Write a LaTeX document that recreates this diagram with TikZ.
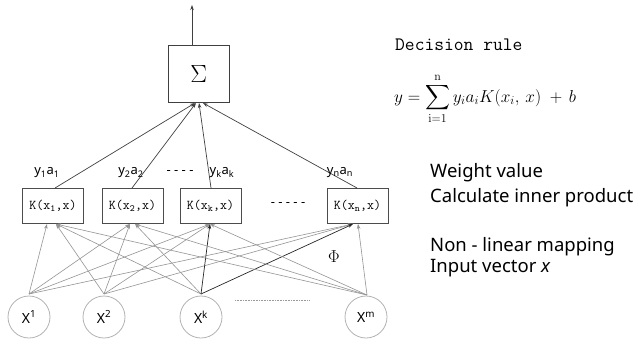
\documentclass[tikz,border=0pt]{standalone}
\usepackage{amsmath}
\usepackage[no-math]{fontspec}
\setmainfont{Noto Sans}
\usetikzlibrary{arrows.meta,calc}
\begin{document}
\begin{tikzpicture}[x=1pt,y=-1pt,
  kbox/.style={draw=black!70, line width=0.8pt, minimum width=61pt, minimum height=35pt, inner sep=0pt, font=\ttfamily\fontsize{13.5}{14}\selectfont},
  sbox/.style={draw=black!75, line width=0.8pt, minimum width=61pt, minimum height=57pt, inner sep=0pt},
  inp/.style={circle, draw=black!30, line width=0.8pt, minimum size=42pt, inner sep=0pt, font=\fontsize{14}{14}\selectfont},
  tip/.style={-{Stealth[length=5pt,width=3.5pt]}},
  gline/.style={draw=black!42, line width=0.6pt, tip},
  bline/.style={draw=black!85, line width=0.7pt, tip},
  sline/.style={draw=black!75, line width=0.7pt, tip},
  lab/.style={font=\fontsize{13}{13}\selectfont, inner sep=0pt},
  rtext/.style={font=\fontsize{18.5}{19}\selectfont, anchor=west, inner sep=0pt},
]
\useasboundingbox (0,0) rectangle (644,340);

% boxes
\node[sbox] (sig) at (198.8,73.5) {\fontsize{24}{24}\selectfont$\Sigma$};
\node[kbox] (k1) at (53,205.5) {K(x\textsubscript{1},x)};
\node[kbox] (k2) at (132.5,205.5) {K(x\textsubscript{2},x)};
\node[kbox] (k3) at (210.5,205.5) {K(x\textsubscript{k},x)};
\node[kbox] (kn) at (357.5,205.5) {K(x\textsubscript{n},x)};

% inputs
\node[inp] (x1) at (29,317) {X\textsuperscript{1}};
\node[inp] (x2) at (104,317) {X\textsuperscript{2}};
\node[inp] (xk) at (201,317) {X\textsuperscript{k}};
\node[inp] (xm) at (366,317) {X\textsuperscript{m}};

% ports
\coordinate (out) at (192,5);
\coordinate (sigout) at (192,45);
\coordinate (s1) at (195,103);
\coordinate (s2) at (196,103);
\coordinate (s3) at (199,103);
\coordinate (s4) at (203,103);
\coordinate (t1) at (55,188);
\coordinate (t2) at (132,188);
\coordinate (t3) at (211,188);
\coordinate (t4) at (357,188);
\coordinate (b1a) at (47,224);
\coordinate (b1b) at (56,224);
\coordinate (b2a) at (130,224);
\coordinate (b2b) at (135,224);
\coordinate (b3) at (210,224);
\coordinate (b4a) at (353,224);
\coordinate (b4b) at (358,224);
\coordinate (p1) at (29,294);
\coordinate (p2) at (104,294);
\coordinate (pk) at (201,294);
\coordinate (pm) at (367,295);
\coordinate (d1) at (235,300);
\coordinate (d2) at (310,300);

% output
\draw[sline] (sigout) -- (out);
% to sigma
\draw[sline] (t1) -- (s1);
\draw[sline] (t2) -- (s2);
\draw[sline] (t3) -- (s3);
\draw[sline] (t4) -- (s4);

% input connections
\draw[gline] (p1) -- (b1a);
\draw[gline] (p1) -- (b2a);
\draw[gline] (p1) -- (b3);
\draw[gline] (p1) -- (b4a);
\draw[gline] (p2) -- (b1b);
\draw[gline] (p2) -- (b2a);
\draw[gline] (p2) -- (b3);
\draw[gline] (p2) -- (b4a);
\draw[gline] (pk) -- (b1b);
\draw[gline] (pk) -- (b2b);
\draw[bline] (pk) -- (b3);
\draw[bline] (pk) -- (b4a);
\draw[gline] (pm) -- (b1b);
\draw[gline] (pm) -- (b2b);
\draw[gline] (pm) -- (b3);
\draw[gline] (pm) -- (b4b);

\draw[draw=black!40, line width=0.5pt, dash pattern=on 1pt off 0.6pt] (d1) -- (d2);

% labels
\node[lab] (l1) at (47,173) {y\textsubscript{1}a\textsubscript{1}};
\node[lab] (l2) at (131,173) {y\textsubscript{2}a\textsubscript{2}};
\node[lab] (l3) at (180,173) {- - - -};
\node[lab] (l4) at (222,173) {y\textsubscript{k}a\textsubscript{k}};
\node[lab] (l5) at (340,173) {y\textsubscript{n}a\textsubscript{n}};
\node[lab] (l6) at (288,205) {- - - - -};
\node[inner sep=0pt] (phi) at (334,257) {\fontsize{16}{16}\selectfont$\Phi$};

% right side
\node[anchor=west, inner sep=0pt, font=\ttfamily\fontsize{19}{20}\selectfont] (dr) at (395,45) {Decision rule};
\node[anchor=base west, inner sep=0pt, font=\fontsize{18.5}{19}\selectfont] (eq) at (394,102)
  {$\displaystyle y=\sum_{\mathrm{i=1}}^{\mathrm{n}} y_i a_i K(x_i,\,x)\;+\,b$};
\node[rtext] (w) at (430,173) {Weight value};
\node[rtext] (c) at (430,198) {Calculate inner product};
\node[rtext] (n) at (430,247) {Non - linear mapping};
\node[rtext] (iv) at (430,268) {Input vector \textbf{\textit{x}}};
\end{tikzpicture}
\end{document}
